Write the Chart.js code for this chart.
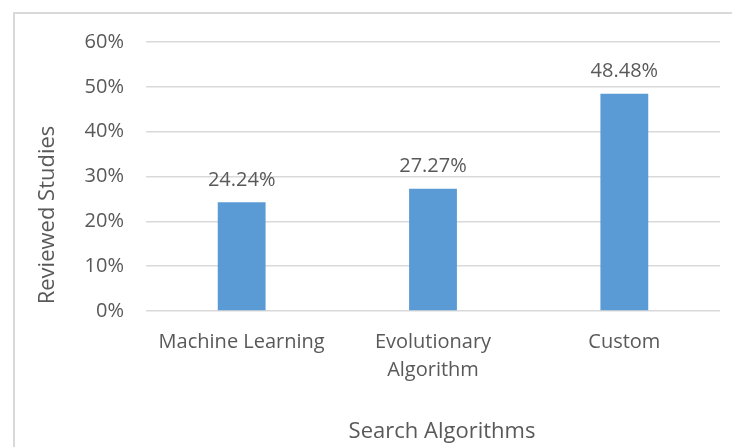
<!DOCTYPE html>
<html>
<head>
<meta charset="utf-8">
<script src="https://cdn.jsdelivr.net/npm/chart.js@4/dist/chart.umd.min.js"></script>
<style>
  html, body { margin: 0; padding: 0; background: #fff; overflow: hidden; }
  #wrap { position: relative; width: 732px; height: 447px; overflow: hidden; }
  #frame { position: absolute; left: 13px; top: 12px; width: 800px; height: 500px; border: 2px solid #d9d9d9; box-sizing: border-box; }
  #chart { position: absolute; left: 0; top: 0; }
</style>
</head>
<body>
<div id="wrap">
  <div id="frame"></div>
  <canvas id="chart" width="732" height="447"></canvas>
</div>
<script>
// values
var categories = ['Machine Learning', ['Evolutionary', 'Algorithm'], 'Custom'];
var shares = [24.24, 27.27, 48.48];
var yTicks = [0, 10, 20, 30, 40, 50, 60];

var textColor = '#595959';
var fontFamily = "'Open Sans', 'Noto Sans', sans-serif";

// values above the bars + the two axis titles (excel puts them a bit off-centre)
var barLabels = {
    id: 'barLabels',
    afterDatasetsDraw: function (chart) {
        var ctx = chart.ctx;
        var meta = chart.getDatasetMeta(0);
        ctx.save();
        ctx.font = '20px ' + fontFamily;
        ctx.fillStyle = textColor;
        ctx.textAlign = 'center';
        ctx.textBaseline = 'middle';
        meta.data.forEach(function (bar, i) {
            ctx.fillText(shares[i].toFixed(2) + '%', bar.x, bar.y - 22);
        });
        ctx.font = '22px ' + fontFamily;
        ctx.fillText('Search Algorithms', 442, 432);
        ctx.translate(48, 215);
        ctx.rotate(-Math.PI / 2);
        ctx.fillText('Reviewed Studies', 0, 0);
        ctx.restore();
    }
};

var ctx = document.getElementById('chart').getContext('2d');
var myChart = new Chart(ctx, {
    type: 'bar',
    data: {
        labels: categories,
        datasets: [{
            data: shares,
            backgroundColor: '#5b9bd5',
            borderWidth: 0,
            barPercentage: 0.25,
            categoryPercentage: 1
        }]
    },
    options: {
        responsive: false,
        animation: false,
        events: [],
        layout: {padding: {left: 34, right: 12, top: 42, bottom: 0}},
        plugins: {legend: {display: false}, tooltip: {enabled: false}},
        scales: {
            x: {
                grid: {display: false},
                border: {display: false},
                ticks: {color: textColor, padding: 9, maxRotation: 0, font: {family: fontFamily, size: 20, lineHeight: 1.4}},
                afterFit: function (scale) { scale.height = 447 - 311; }
            },
            y: {
                min: 0,
                max: 60,
                afterBuildTicks: function (scale) {
                    scale.ticks = yTicks.map(function (v) { return {value: v}; });
                },
                grid: {color: '#d9d9d9', lineWidth: 1.5, drawTicks: false},
                border: {display: false},
                ticks: {color: textColor, padding: 22, font: {family: fontFamily, size: 20},
                    callback: function (v) { return v + '%'; }},
                afterFit: function (scale) { scale.width = 146 - 34; }
            }
        }
    },
    plugins: [barLabels]
});
</script>
</body>
</html>
